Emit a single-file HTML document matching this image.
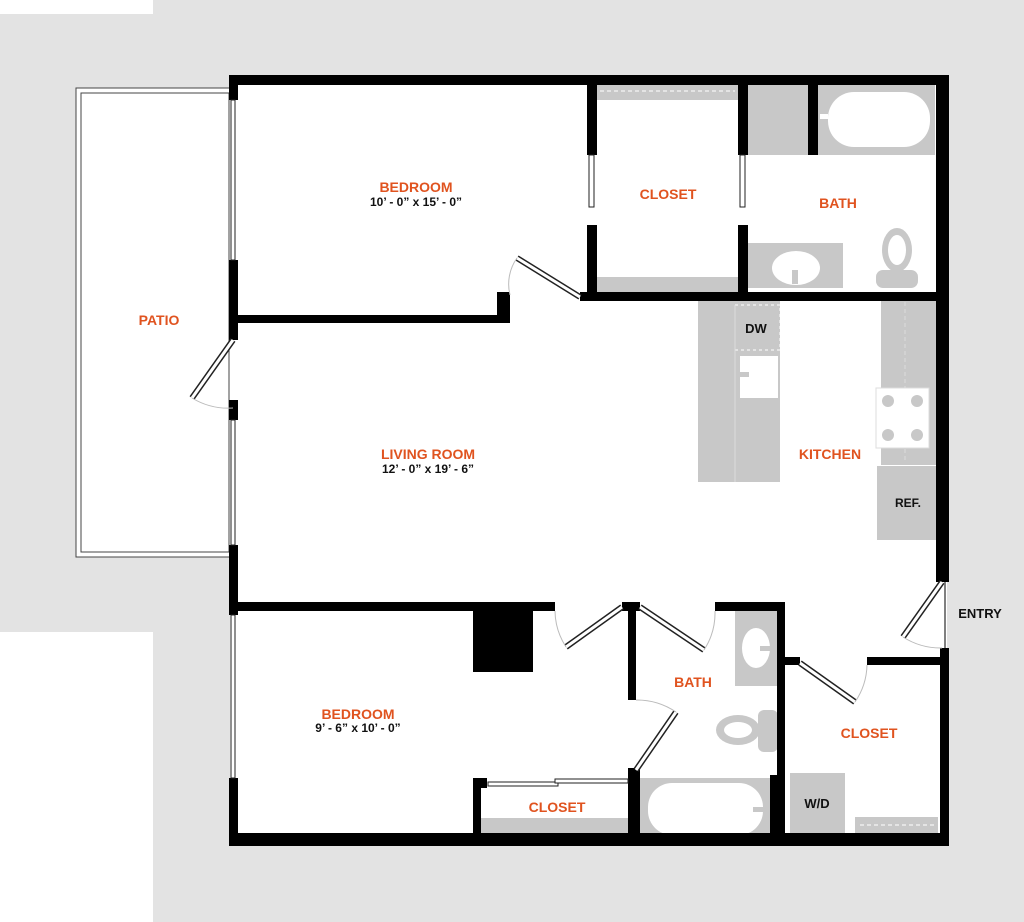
<!DOCTYPE html><html><head><style>body{margin:0;background:#fff}svg{display:block}
.o{font:bold 14px "Liberation Sans",sans-serif;fill:#e0531f;text-anchor:middle}
.d{font:bold 12px "Liberation Sans",sans-serif;fill:#111;text-anchor:middle}
</style></head><body>
<svg width="1024" height="922" viewBox="0 0 1024 922">
<rect width="1024" height="922" fill="#e3e3e3"/>
<rect x="0" y="0" width="153" height="14" fill="#fff"/>
<rect x="0" y="632" width="153" height="290" fill="#fff"/>
<rect x="76" y="88" width="155" height="469" fill="#fff" stroke="#444" stroke-width="1"/>
<rect x="81" y="93" width="148" height="459" fill="none" stroke="#444" stroke-width="1"/>
<rect x="230" y="76" width="717" height="769" fill="#fff"/>
<g fill="#c8c8c8">
<rect x="597" y="85" width="141" height="15"/><rect x="597" y="277" width="141" height="15"/>
<rect x="748" y="85" width="60" height="70"/><rect x="818" y="85" width="117" height="70"/>
<rect x="748" y="243" width="95" height="45"/>
<rect x="698" y="300" width="82" height="182"/>
<rect x="881" y="300" width="55" height="165"/>
<rect x="877" y="466" width="63" height="74"/>
<rect x="735" y="602" width="42" height="84"/>
<rect x="640" y="778" width="130" height="60"/>
<rect x="481" y="818" width="147" height="15"/>
<rect x="790" y="770" width="55" height="65"/>
<rect x="855" y="817" width="83" height="18"/>
</g>
<line x1="600" y1="91" x2="735" y2="91" stroke="#fff" stroke-dasharray="4 3"/>
<line x1="860" y1="825" x2="935" y2="825" stroke="#fff" stroke-dasharray="4 3"/>
<line x1="905" y1="302" x2="905" y2="462" stroke="#ddd" stroke-dasharray="4 3"/>
<rect x="735" y="305" width="45" height="45" fill="none" stroke="#fff" stroke-dasharray="3 3"/>
<line x1="735" y1="305" x2="735" y2="482" stroke="#ddd"/>
<rect x="828" y="92" width="102" height="55" rx="26" fill="#fff"/>
<rect x="820" y="114" width="8" height="5" fill="#fff"/>
<ellipse cx="796" cy="268" rx="24" ry="17" fill="#fff"/><rect x="792" y="270" width="6" height="14" fill="#c8c8c8"/>
<ellipse cx="897" cy="250" rx="15" ry="22" fill="#c8c8c8"/><ellipse cx="897" cy="250" rx="9" ry="15" fill="#fff"/>
<rect x="876" y="270" width="42" height="18" rx="7" fill="#c8c8c8"/>
<rect x="740" y="356" width="38" height="42" fill="#fff"/><rect x="737" y="372" width="12" height="5" fill="#c8c8c8"/>
<rect x="876" y="388" width="53" height="60" fill="#fff" stroke="#ddd"/>
<g fill="#c8c8c8"><circle cx="888" cy="401" r="6"/><circle cx="917" cy="401" r="6"/><circle cx="888" cy="435" r="6"/><circle cx="917" cy="435" r="6"/></g>
<ellipse cx="756" cy="648" rx="14" ry="20" fill="#fff"/><rect x="760" y="646" width="12" height="5" fill="#c8c8c8"/>
<ellipse cx="738" cy="730" rx="22" ry="15" fill="#c8c8c8"/><ellipse cx="738" cy="730" rx="14" ry="8" fill="#fff"/>
<rect x="758" y="710" width="20" height="42" rx="6" fill="#c8c8c8"/>
<rect x="648" y="783" width="115" height="52" rx="24" fill="#fff"/><rect x="753" y="807" width="10" height="5" fill="#c8c8c8"/>
<rect x="790" y="770" width="55" height="3" fill="#fff"/>
<g fill="#000">
<rect x="229" y="75" width="719" height="10"/>
<rect x="936" y="75" width="13" height="507"/>
<rect x="940" y="648" width="9" height="198"/>
<rect x="229" y="833" width="719" height="13"/>
<rect x="229" y="75" width="9" height="25"/><rect x="229" y="260" width="9" height="80"/>
<rect x="229" y="400" width="9" height="20"/><rect x="229" y="545" width="9" height="70"/>
<rect x="229" y="778" width="9" height="68"/>
<rect x="229" y="315" width="276" height="8"/><rect x="497" y="292" width="13" height="31"/>
<rect x="580" y="292" width="360" height="9"/>
<rect x="587" y="85" width="10" height="70"/><rect x="587" y="225" width="10" height="75"/>
<rect x="738" y="85" width="10" height="70"/><rect x="738" y="225" width="10" height="75"/>
<rect x="808" y="85" width="10" height="70"/>
<rect x="229" y="602" width="326" height="9"/><rect x="473" y="611" width="60" height="61"/>
<rect x="622" y="602" width="18" height="9"/><rect x="628" y="602" width="8" height="98"/>
<rect x="715" y="602" width="70" height="9"/><rect x="777" y="602" width="8" height="238"/>
<rect x="785" y="657" width="15" height="8"/><rect x="867" y="657" width="75" height="8"/>
<rect x="628" y="768" width="12" height="72"/><rect x="770" y="775" width="8" height="65"/>
<rect x="473" y="778" width="8" height="62"/><rect x="473" y="778" width="14" height="10"/>
</g>
<g fill="#fff" stroke="#222" stroke-width="1">
<rect x="231" y="100" width="4" height="160"/><rect x="231" y="420" width="4" height="125"/><rect x="231" y="615" width="4" height="163"/>
<rect x="589" y="155" width="5" height="52"/><rect x="740" y="155" width="5" height="52"/>
<rect x="488" y="782" width="70" height="4"/><rect x="555" y="779" width="73" height="4"/>
</g>
<line x1="945" y1="582" x2="945" y2="648" stroke="#555" stroke-width="1.5"/>
<g stroke="#222" stroke-width="6"><line x1="233" y1="340" x2="192" y2="398"/><line x1="517" y1="258" x2="580" y2="297"/><line x1="622" y1="607" x2="566" y2="647"/><line x1="640" y1="607" x2="704" y2="650"/><line x1="676" y1="712" x2="636" y2="770"/><line x1="800" y1="663" x2="855" y2="702"/><line x1="942" y1="582" x2="903" y2="637"/></g>
<g stroke="#fff" stroke-width="3"><line x1="233" y1="340" x2="192" y2="398"/><line x1="517" y1="258" x2="580" y2="297"/><line x1="622" y1="607" x2="566" y2="647"/><line x1="640" y1="607" x2="704" y2="650"/><line x1="676" y1="712" x2="636" y2="770"/><line x1="800" y1="663" x2="855" y2="702"/><line x1="942" y1="582" x2="903" y2="637"/></g>
<g fill="none" stroke="#bbb"><path d="M192 398 A70 70 0 0 0 233 408"/><path d="M517 258 A45 45 0 0 0 510 295"/><path d="M555 611 A68 68 0 0 0 566 647"/><path d="M715 611 A68 68 0 0 1 704 650"/><path d="M636 700 A70 70 0 0 1 676 712"/><path d="M867 665 A68 68 0 0 1 855 702"/><path d="M903 637 A70 70 0 0 0 942 648"/></g>
<text class="o" x="416" y="192">BEDROOM</text><text class="d" x="416" y="206">10’ - 0” x 15’ - 0”</text>
<text class="o" x="668" y="199">CLOSET</text><text class="o" x="838" y="208">BATH</text>
<text class="o" x="159" y="325">PATIO</text>
<text class="o" x="428" y="459">LIVING ROOM</text><text class="d" x="428" y="473">12’ - 0” x 19’ - 6”</text>
<text class="o" x="830" y="459">KITCHEN</text>
<text class="d" x="756" y="333" style="font-size:13px">DW</text>
<text class="d" x="908" y="507">REF.</text>
<text class="d" x="980" y="618" style="font-size:13px">ENTRY</text>
<text class="o" x="358" y="719">BEDROOM</text><text class="d" x="358" y="732">9’ - 6” x 10’ - 0”</text>
<text class="o" x="693" y="687">BATH</text><text class="o" x="869" y="738">CLOSET</text>
<text class="o" x="557" y="812">CLOSET</text>
<text class="d" x="817" y="808" style="font-size:13px">W/D</text>
</svg></body></html>
